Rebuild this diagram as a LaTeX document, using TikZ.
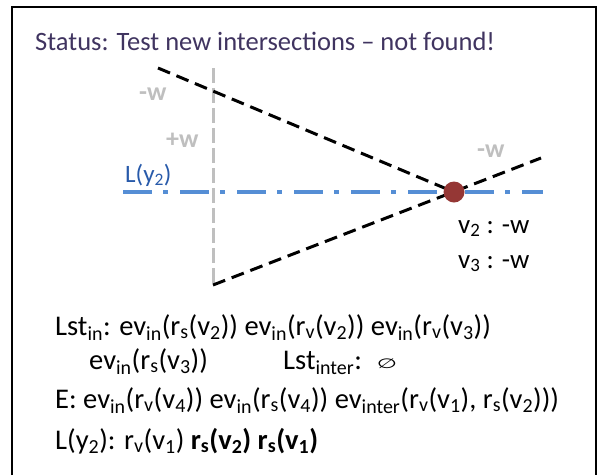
\documentclass[tikz,border=0pt]{standalone}
\usepackage{fontspec}
\setmainfont{Carlito}
\newfontfamily\symfont{DejaVu Sans}
\usetikzlibrary{positioning}

\definecolor{titlecol}{RGB}{64,52,96}
\definecolor{wgray}{RGB}{191,191,191}
\definecolor{lineblue}{RGB}{85,142,213}
\definecolor{labelblue}{RGB}{40,90,170}
\definecolor{hitred}{RGB}{149,55,53}

\newcommand{\sub}[1]{\textsubscript{#1}}

\begin{document}
\begin{tikzpicture}[
  x=1pt, y=-1pt,
  every node/.style={inner sep=0pt},
  title/.style={font=\fontsize{26.5}{32}\selectfont, text=titlecol, anchor=base west},
  wlabel/.style={font=\bfseries\fontsize{26}{30}\selectfont, text=wgray, anchor=base west},
  vlabel/.style={font=\fontsize{27}{32}\selectfont, anchor=base west},
  listline/.style={font=\fontsize{28.5}{34}\selectfont, anchor=base west},
  segment/.style={line width=3pt, dash pattern=on 13pt off 7pt},
]
  \useasboundingbox (0,0) rectangle (600,475);
  \draw[line width=1.5pt] (12,475) -- (12,7) -- (596,7) -- (596,475);

  \node[title] (status) at (35,50) {Status: Test new intersections – not found!};

  % geometry
  \coordinate (wtop) at (213,68);
  \coordinate (wbot) at (213,285);
  \coordinate (aleft) at (158,68);
  \coordinate (bright) at (541,158);
  \coordinate (lleft) at (123,192);
  \coordinate (lright) at (543,192);

  \draw[wgray, line width=3pt, dash pattern=on 15pt off 5pt] (wtop) -- (wbot);
  \draw[lineblue, line width=3.2pt, dash pattern=on 29pt off 11pt on 5pt off 12pt] (lleft) -- (lright);
  \draw[segment] (aleft) -- (454,192);
  \draw[segment] (wbot) -- (bright);
  \node[circle, fill=hitred, minimum size=21pt] (hit) at (454,192) {};

  \node[wlabel] (wa) at (139,100) {-w};
  \node[wlabel] (wb) at (166,147) {+w};
  \node[wlabel] (wc) at (477,157) {-w};
  \node[vlabel, text=labelblue, font=\fontsize{25}{30}\selectfont] (ly) at (125,182) {L(y\sub{2})};

  \node[vlabel] (v2) at (458,233) {v\sub{2} : -w};
  \node[vlabel] (v3) at (458,268) {v\sub{3} : -w};

  % lists
  \node[listline] (lstin) at (55,335)
    {Lst\sub{in}: ev\sub{in}(r\sub{s}(v\sub{2})) ev\sub{in}(r\sub{v}(v\sub{2})) ev\sub{in}(r\sub{v}(v\sub{3}))};
  \node[listline] (lstrest) at (89,369) {ev\sub{in}(r\sub{s}(v\sub{3}))};
  \node[listline] (lstinter) at (283,369) {Lst\sub{inter}:};
  \node[listline, anchor=center] (empty) at (387,364)
    {\symfont\fontsize{16}{18}\selectfont\scalebox{1.45}[0.85]{∅}};
  \node[listline] (evlist) at (55,408)
    {E: ev\sub{in}(r\sub{v}(v\sub{4})) ev\sub{in}(r\sub{s}(v\sub{4})) ev\sub{inter}(r\sub{v}(v\sub{1}), r\sub{s}(v\sub{2})))};
  \node[listline] (lylist) at (55,449)
    {L(y\sub{2}): r\sub{v}(v\sub{1}) \textbf{r\sub{s}(v\sub{2}) r\sub{s}(v\sub{1})}};
\end{tikzpicture}
\end{document}
